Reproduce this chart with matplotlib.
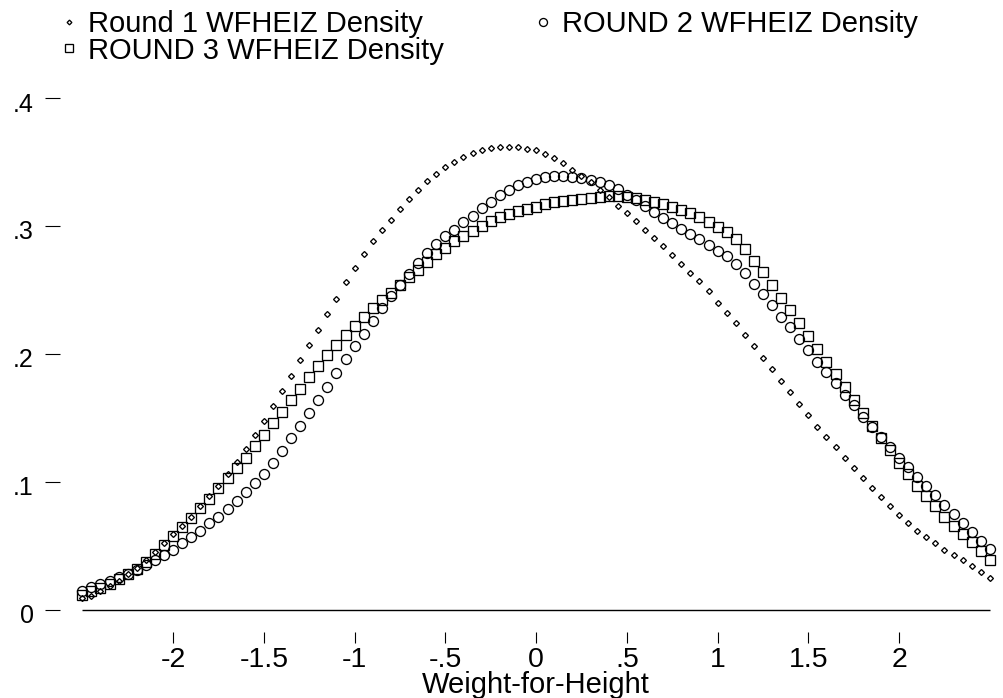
import numpy as np
import matplotlib
matplotlib.use("Agg")
import matplotlib.pyplot as plt
from matplotlib.transforms import ScaledTranslation

# ---------------- data ----------------
x_grid = np.round(np.linspace(-2.5, 2.5, 101), 2)

round1 = [0.009, 0.011, 0.015, 0.019, 0.023, 0.028, 0.033, 0.039, 0.045, 0.052,
          0.059, 0.066, 0.073, 0.081, 0.089, 0.097, 0.106, 0.116, 0.126, 0.137,
          0.148, 0.159, 0.171, 0.183, 0.195, 0.207, 0.219, 0.231, 0.243, 0.256,
          0.267, 0.278, 0.288, 0.297, 0.305, 0.313, 0.321, 0.328, 0.335, 0.3405,
          0.346, 0.350, 0.354, 0.357, 0.359, 0.361, 0.3615, 0.362, 0.3615, 0.3605,
          0.359, 0.3565, 0.353, 0.349, 0.344, 0.339, 0.334, 0.328, 0.3225, 0.316,
          0.310, 0.304, 0.297, 0.291, 0.284, 0.277, 0.270, 0.263, 0.257, 0.249,
          0.240, 0.232, 0.224, 0.215, 0.206, 0.197, 0.188, 0.179, 0.170, 0.161,
          0.152, 0.143, 0.135, 0.127, 0.119, 0.111, 0.103, 0.095, 0.088, 0.081,
          0.074, 0.068, 0.062, 0.057, 0.052, 0.047, 0.043, 0.039, 0.034, 0.030,
          0.025]

round2 = [0.015, 0.018, 0.020, 0.023, 0.0255, 0.028, 0.031, 0.035, 0.039, 0.043,
          0.047, 0.052, 0.057, 0.062, 0.068, 0.073, 0.079, 0.085, 0.092, 0.099,
          0.106, 0.115, 0.124, 0.134, 0.144, 0.154, 0.164, 0.174, 0.185, 0.196,
          0.206, 0.216, 0.226, 0.236, 0.245, 0.254, 0.2625, 0.271, 0.279, 0.286,
          0.292, 0.297, 0.303, 0.308, 0.314, 0.319, 0.324, 0.3285, 0.332, 0.3345,
          0.3365, 0.338, 0.339, 0.339, 0.3385, 0.3375, 0.336, 0.334, 0.332, 0.329,
          0.3245, 0.320, 0.3155, 0.311, 0.306, 0.302, 0.2975, 0.2935, 0.2895, 0.285,
          0.2805, 0.2765, 0.2705, 0.2635, 0.255, 0.247, 0.238, 0.229, 0.221, 0.212,
          0.203, 0.194, 0.186, 0.177, 0.168, 0.160, 0.151, 0.143, 0.135, 0.127,
          0.119, 0.112, 0.104, 0.097, 0.090, 0.082, 0.075, 0.068, 0.061, 0.054,
          0.048]

round3 = [0.012, 0.0145, 0.017, 0.0205, 0.024, 0.028, 0.032, 0.0375, 0.044, 0.051,
          0.058, 0.065, 0.072, 0.080, 0.087, 0.095, 0.103, 0.111, 0.119, 0.128,
          0.137, 0.146, 0.155, 0.164, 0.173, 0.182, 0.191, 0.199, 0.207, 0.215,
          0.222, 0.229, 0.236, 0.242, 0.248, 0.254, 0.260, 0.266, 0.272, 0.278,
          0.283, 0.288, 0.292, 0.296, 0.300, 0.304, 0.307, 0.309, 0.3115, 0.3135,
          0.315, 0.317, 0.3185, 0.3195, 0.3205, 0.3213, 0.322, 0.3227, 0.3232, 0.3233,
          0.3227, 0.3218, 0.3205, 0.319, 0.317, 0.315, 0.3125, 0.310, 0.3068, 0.303,
          0.299, 0.295, 0.290, 0.282, 0.273, 0.264, 0.254, 0.244, 0.234, 0.224,
          0.214, 0.204, 0.194, 0.184, 0.174, 0.164, 0.154, 0.144, 0.134, 0.125,
          0.115, 0.106, 0.097, 0.089, 0.081, 0.073, 0.066, 0.059, 0.053, 0.046,
          0.039]

labels = ["Round 1 WFHEIZ Density", "ROUND 2 WFHEIZ Density", "ROUND 3 WFHEIZ Density"]
x_ticks = [-2, -1.5, -1, -0.5, 0, 0.5, 1, 1.5, 2]
x_tick_labels = ["-2", "-1.5", "-1", "-.5", "0", ".5", "1", "1.5", "2"]
y_ticks = [0, 0.1, 0.2, 0.3, 0.4]
y_tick_labels = ["0", ".1", ".2", ".3", ".4"]
x_title = "Weight-for-Height"

# ---------------- figure ----------------
plt.rcParams['font.family'] = ['Liberation Sans', 'DejaVu Sans']
W, H = 1004, 698
fig = plt.figure(figsize=(W / 100, H / 100), dpi=100)
fig.patch.set_facecolor("white")

ax = fig.add_axes([60 / W, 1 - 632 / H, 940 / W, 534 / H])
ax.set_xlim(-2.623, 2.556)
ax.set_ylim(-0.0172, 0.4)
for s in ax.spines.values():
    s.set_visible(False)

mk = dict(linestyle="none", color="black", mfc="none", mew=0.95, clip_on=False)
h1, = ax.plot(x_grid, round1, marker="D", ms=3.0, label=labels[0], **mk)
h2, = ax.plot(x_grid, round2, marker="o", ms=7.2, label=labels[1], **mk)
h3, = ax.plot(x_grid, round3, marker="s", ms=7.0, label=labels[2], **mk)

# x axis line at y = 0 spanning the data range
ax.hlines(0, x_grid[0], x_grid[-1], color="black", lw=1.0)

ax.set_xticks(x_ticks)
ax.set_xticklabels(x_tick_labels)
ax.set_yticks(y_ticks)
ax.set_yticklabels(y_tick_labels)
ax.tick_params(axis="x", direction="out", length=8, width=0.8, pad=3,
               labelsize=20.5, colors="black")
ax.tick_params(axis="y", direction="out", length=10.8, width=0.8, pad=8,
               labelsize=18, colors="black")
shift = ScaledTranslation(0, -4 / 100, fig.dpi_scale_trans)
for lab in ax.get_yticklabels():
    lab.set_transform(lab.get_transform() + shift)

ax.set_xlabel(x_title, fontsize=21)
ax.xaxis.set_label_coords(0, -0.1, transform=ax.get_xaxis_transform())
ax.xaxis.label.set_va("center")

leg = fig.legend(handles=[h1, h3, h2], labels=[labels[0], labels[2], labels[1]],
                 ncol=2, loc="upper left", bbox_to_anchor=(60 / W, 1 - 10 / H),
                 frameon=False, fontsize=21, handlelength=0.6, handletextpad=0.36,
                 columnspacing=3.1, labelspacing=-0.05, borderpad=0,
                 borderaxespad=0, markerscale=0.8)

fig.savefig("out.png", dpi=100)
